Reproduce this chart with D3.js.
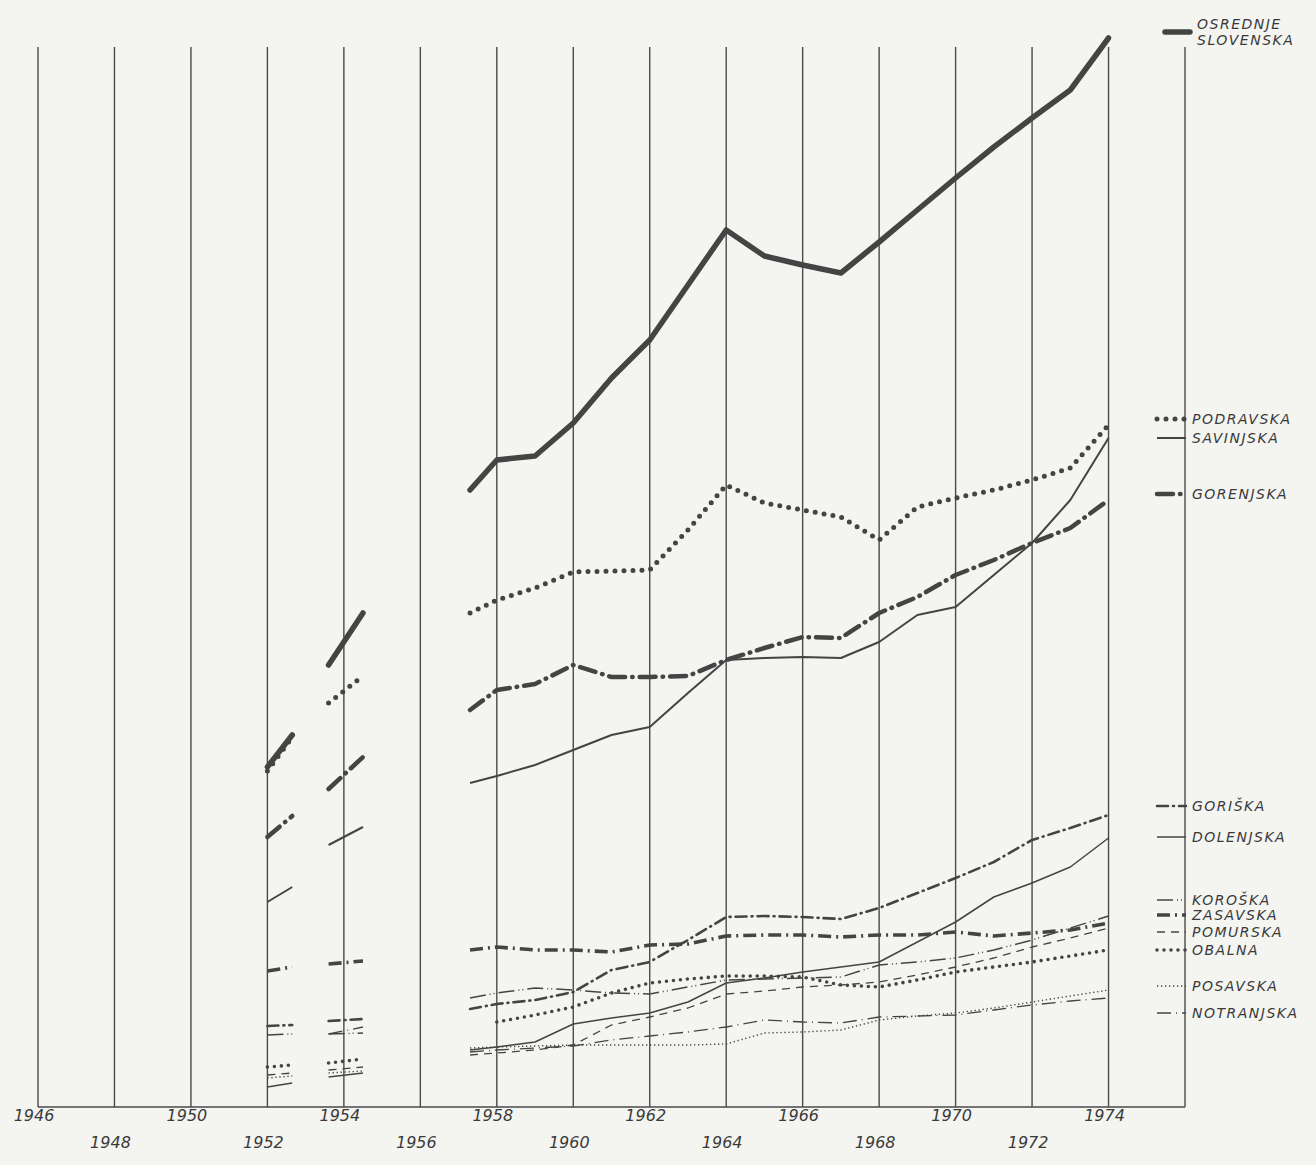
<!DOCTYPE html>
<html lang="sl">
<head>
<meta charset="UTF-8">
<title>Regije 1946–1974</title>
<script src="https://d3js.org/d3.v7.min.js"></script>
<style>
  body { margin: 0; background: #f4f4f1; }
  svg { display: block; }
  .year { font-family: "DejaVu Sans", sans-serif; font-style: italic; font-size: 16px; fill: #3a3a3a; }
  .lab { font-family: "DejaVu Sans", sans-serif; font-style: italic; font-size: 14px; letter-spacing: 1.5px; fill: #3a3a3a; }
</style>
</head>
<body>
<div id="chart"></div>
<script>
// leta na osi
const tickLabels = [1946, 1948, 1950, 1952, 1954, 1956, 1958, 1960, 1962, 1964, 1966, 1968, 1970, 1972, 1974];
const gridYears = [1946, 1948, 1950, 1952, 1954, 1956, 1958, 1960, 1962, 1964, 1966, 1968, 1970, 1972, 1974, 1976];

// glavni del krivulj (prva točka je narisana malo pred 1958)
const years = [1957.3, 1958, 1959, 1960, 1961, 1962, 1963, 1964, 1965, 1966, 1967, 1968, 1969, 1970, 1971, 1972, 1973, 1974];
// kratki odseki okoli 1952 in 1954
const fragYears = [1952.0, 1952.65, 1953.6, 1954.5];

const osrednje   = [61.7, 64.7, 65.1, 68.4, 72.9, 76.7, 82.2, 87.7, 85.1, 84.2, 83.4, 86.5, 89.7, 92.9, 96.0, 98.9, 101.7, 106.9];
const podravska  = [49.4, 50.7, 51.9, 53.5, 53.6, 53.7, 57.7, 62.2, 60.4, 59.7, 59.0, 56.7, 60.0, 60.9, 61.7, 62.7, 63.9, 68.2];
const savinjska  = [32.4, 33.1, 34.2, 35.7, 37.2, 38.0, 41.4, 44.7, 44.9, 45.0, 44.9, 46.5, 49.2, 50.0, 53.2, 56.4, 60.7, 66.9];
const gorenjska  = [39.7, 41.7, 42.3, 44.2, 43.0, 43.0, 43.1, 44.7, 45.9, 47.0, 46.9, 49.4, 51.0, 53.2, 54.7, 56.4, 57.9, 60.7];
const goriska    = [9.8, 10.3, 10.7, 11.5, 13.7, 14.5, 16.7, 19.0, 19.1, 19.0, 18.8, 19.9, 21.4, 22.9, 24.5, 26.7, 27.9, 29.2];
const dolenjska  = [5.7, 6.0, 6.5, 8.3, 8.9, 9.4, 10.5, 12.4, 12.9, 13.5, 14.0, 14.5, 16.5, 18.5, 21.0, 22.4, 24.0, 26.9];
const koroska    = [10.9, 11.4, 11.9, 11.7, 11.4, 11.3, 12.0, 12.7, 12.8, 12.9, 13.0, 14.2, 14.5, 14.9, 15.7, 16.7, 17.9, 19.1];
const zasavska   = [15.7, 16.0, 15.7, 15.7, 15.5, 16.2, 16.3, 17.1, 17.2, 17.2, 17.0, 17.2, 17.2, 17.5, 17.1, 17.4, 17.7, 18.4];
const pomurska   = [5.2, 5.4, 5.7, 6.2, 8.2, 9.0, 9.9, 11.3, 11.6, 12.0, 12.2, 12.5, 13.2, 14.0, 14.9, 16.0, 16.9, 17.9];
const obalna     = [null, 8.5, 9.2, 10.0, 11.4, 12.4, 12.8, 13.1, 13.1, 13.0, 12.2, 12.0, 12.7, 13.5, 14.0, 14.5, 15.1, 15.7];
const posavska   = [5.9, 6.0, 6.1, 6.2, 6.2, 6.2, 6.2, 6.3, 7.4, 7.5, 7.7, 8.7, 9.1, 9.4, 9.9, 10.5, 11.1, 11.7];
const notranjska = [5.5, 5.7, 5.9, 6.1, 6.7, 7.1, 7.5, 8.0, 8.7, 8.5, 8.4, 9.0, 9.1, 9.2, 9.7, 10.2, 10.6, 10.9];

const osrednjeEarly   = [34.0, 37.2, 44.2, 49.4];
const podravskaEarly  = [33.6, 37.0, 40.4, 43.1];
const savinjskaEarly  = [20.5, 22.0, 26.2, 28.0];
const gorenjskaEarly  = [27.0, 29.1, 31.8, 35.0];
const goriskaEarly    = [8.1, 8.2, 8.6, 8.8];
const dolenjskaEarly  = [2.0, 2.4, 3.0, 3.4];
const koroskaEarly    = [7.2, 7.3, 7.3, 7.4];
const zasavskaEarly   = [13.6, 14.0, 14.3, 14.6];
const pomurskaEarly   = [3.2, 3.4, 3.7, 4.0];
const obalnaEarly     = [4.0, 4.2, 4.4, 4.8];
const posavskaEarly   = [2.9, 3.1, 3.4, 3.6];
const notranjskaEarly = [null, null, 7.3, 8.0];

const names = ["OSREDNJE SLOVENSKA", "PODRAVSKA", "SAVINJSKA", "GORENJSKA", "GORIŠKA", "DOLENJSKA",
               "KOROŠKA", "ZASAVSKA", "POMURSKA", "OBALNA", "POSAVSKA", "NOTRANJSKA"];

const series = [
  [osrednje, osrednjeEarly], [podravska, podravskaEarly], [savinjska, savinjskaEarly],
  [gorenjska, gorenjskaEarly], [goriska, goriskaEarly], [dolenjska, dolenjskaEarly],
  [koroska, koroskaEarly], [zasavska, zasavskaEarly], [pomurska, pomurskaEarly],
  [obalna, obalnaEarly], [posavska, posavskaEarly], [notranjska, notranjskaEarly]
].map(([main, early], i) => ({ name: names[i], main, early }));

// videz črt
const styles = [
  { w: 5.5, dash: null, cap: "round" },
  { w: 5, dash: "0 9", cap: "round" },
  { w: 2, dash: null, cap: "butt" },
  { w: 4.5, dash: "16 7 0.5 7", cap: "round" },
  { w: 2.6, dash: "11 5 1 5", cap: "round" },
  { w: 1.5, dash: null, cap: "butt" },
  { w: 1.5, dash: "16 4 1 3 1 4", cap: "butt" },
  { w: 3.6, dash: "13 5 2 5", cap: "butt" },
  { w: 1.3, dash: "8 6", cap: "butt" },
  { w: 3.6, dash: "0 7", cap: "round" },
  { w: 1.4, dash: "1.3 2.7", cap: "butt" },
  { w: 1.3, dash: "14 5 1 5", cap: "butt" }
];
// navpični položaj legend (px)
const legendY = [32, 419, 438, 494, 806, 837, 900, 915, 932, 950, 986, 1013];

const width = 1316, height = 1165;
const svg = d3.select("#chart").append("svg")
  .attr("width", width).attr("height", height)
  .style("background", "#f4f4f1");

const x = d3.scaleLinear().domain([1946, 1976]).range([38, 1185]);
const y = d3.scaleLinear().domain([0, 106.2]).range([1107, 45]);
const ink = "#444";

// mreža
svg.append("g").selectAll("line").data(gridYears).join("line")
  .attr("x1", d => x(d)).attr("x2", d => x(d))
  .attr("y1", 47).attr("y2", y(0))
  .attr("stroke", "#4a4a4a").attr("stroke-width", 1.4);
svg.append("line")
  .attr("x1", x(1946)).attr("x2", x(1976))
  .attr("y1", y(0)).attr("y2", y(0))
  .attr("stroke", "#4a4a4a").attr("stroke-width", 1.6);

// letnice v dveh vrstah
svg.append("g").selectAll("text").data(tickLabels).join("text")
  .attr("class", "year")
  .attr("x", d => x(d) - 4)
  .attr("y", (d, i) => i % 2 === 0 ? 1121 : 1148)
  .attr("text-anchor", "middle")
  .text(d => d);

const line = d3.line()
  .defined(d => d[1] != null)
  .x(d => x(d[0])).y(d => y(d[1]));

function styled(sel, s) {
  return sel.attr("fill", "none").attr("stroke", ink)
    .attr("stroke-width", s.w)
    .attr("stroke-dasharray", s.dash)
    .attr("stroke-linecap", s.cap)
    .attr("stroke-linejoin", "round");
}

const g = svg.append("g");
series.forEach((s, i) => {
  const st = styles[i];
  const mainPts = years.map((yr, k) => [yr, s.main[k]]);
  const fragA = fragYears.slice(0, 2).map((yr, k) => [yr, s.early[k]]);
  const fragB = fragYears.slice(2).map((yr, k) => [yr, s.early[k + 2]]);
  [mainPts, fragA, fragB].forEach(pts => {
    if (pts.filter(p => p[1] != null).length < 2) return;
    styled(g.append("path").attr("d", line(pts)), st);
  });
});

// legenda desno od zadnje črte
const lg = svg.append("g");
series.forEach((s, i) => {
  const st = styles[i];
  const ly = legendY[i];
  const x0 = i === 0 ? 1165 : 1157, x1 = i === 0 ? 1190 : 1186;
  styled(lg.append("path").attr("d", `M${x0},${ly}H${x1}`), st);
  if (i === 0) {
    lg.append("text").attr("class", "lab").attr("x", 1197).attr("y", 29).text("OSREDNJE");
    lg.append("text").attr("class", "lab").attr("x", 1197).attr("y", 45).text("SLOVENSKA");
  } else {
    lg.append("text").attr("class", "lab").attr("x", 1192).attr("y", ly + 5).text(s.name);
  }
});
</script>
</body>
</html>
